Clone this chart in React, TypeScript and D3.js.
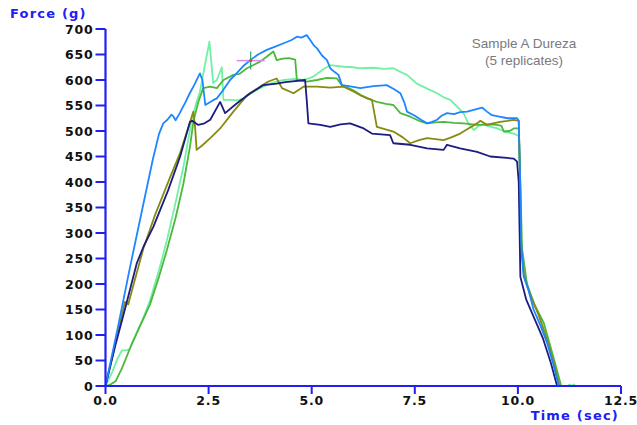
import { useMemo } from "react";
import * as d3 from "d3";

const WIDTH = 637;
const HEIGHT = 425;
const MARGIN = { top: 29, right: 16, bottom: 39, left: 105.5 };

const xTicks = [0, 2.5, 5, 7.5, 10, 12.5];
const yTicks = [0, 50, 100, 150, 200, 250, 300, 350, 400, 450, 500, 550, 600, 650, 700];

type Pt = [number, number];

// replicate 1 (bright blue)
const blueSeries: Pt[] = [
  [0, 0], [0.3, 115], [0.6, 235], [0.9, 350], [1.15, 445], [1.3, 495], [1.4, 515], [1.5, 522],
  [1.6, 532], [1.65, 528], [1.7, 521], [1.8, 535], [1.93, 555], [2.05, 575], [2.15, 590], [2.29, 613],
  [2.35, 600], [2.42, 551], [2.5, 555], [2.6, 560], [2.7, 564], [2.85, 580], [3.02, 600], [3.2, 615],
  [3.35, 628], [3.51, 639], [3.7, 650], [3.91, 659], [4.1, 665], [4.32, 672], [4.5, 678], [4.64, 685],
  [4.75, 683], [4.88, 688], [4.95, 680], [5.05, 668], [5.13, 662], [5.25, 648], [5.37, 639], [5.45, 623],
  [5.55, 616], [5.65, 610], [5.73, 590], [5.9, 588], [6.18, 584], [6.5, 588], [6.82, 590], [7.0, 582],
  [7.15, 574], [7.25, 555], [7.31, 538], [7.5, 530], [7.65, 522], [7.8, 515], [7.92, 518], [8.04, 522],
  [8.15, 530], [8.28, 535], [8.45, 533], [8.6, 537], [8.77, 538], [8.95, 542], [9.13, 546], [9.25, 538],
  [9.37, 531], [9.55, 528], [9.75, 525], [9.98, 525], [10.02, 520], [10.05, 420], [10.08, 280],
  [10.14, 215], [10.25, 190], [10.38, 150], [10.55, 118], [10.71, 84], [10.85, 45], [10.99, 0], [11.5, 0],
];

// replicate 2 (aquamarine)
const aquaSeries: Pt[] = [
  [0, 0], [0.15, 25], [0.3, 55], [0.4, 70], [0.5, 70], [0.58, 72], [0.67, 90], [0.9, 130], [1.08, 168],
  [1.3, 228], [1.49, 286], [1.7, 360], [1.89, 430], [2.09, 521], [2.2, 555], [2.29, 577], [2.4, 625],
  [2.52, 675], [2.56, 640], [2.61, 594], [2.7, 600], [2.82, 625], [2.86, 561], [3.02, 561], [3.2, 560],
  [3.35, 564], [3.55, 575], [3.75, 584], [3.95, 592], [4.15, 597], [4.32, 600], [4.6, 602], [4.8, 600],
  [5.0, 605], [5.13, 612], [5.3, 622], [5.45, 629], [5.77, 626], [6.0, 625], [6.18, 623], [6.5, 624],
  [6.75, 622], [6.98, 623], [7.15, 616], [7.31, 610], [7.45, 600], [7.55, 593], [7.8, 583], [8.04, 574],
  [8.2, 566], [8.36, 561], [8.5, 550], [8.68, 535], [8.8, 515], [8.93, 502], [9.05, 510], [9.17, 512],
  [9.35, 508], [9.5, 505], [9.7, 498], [9.9, 495], [10.02, 490], [10.05, 400], [10.08, 275], [10.15, 220],
  [10.3, 180], [10.5, 140], [10.7, 95], [10.9, 40], [11.03, 0], [11.2, 0], [11.25, 3], [11.3, 0],
  [11.35, 3], [11.4, 0], [11.5, 0],
];

// replicate 3 (green)
const greenSeries: Pt[] = [
  [0, 0], [0.1, 2], [0.25, 10], [0.4, 35], [0.6, 75], [0.85, 120], [1.08, 160], [1.3, 215], [1.49, 267],
  [1.7, 330], [1.89, 397], [2.05, 470], [2.13, 518], [2.25, 557], [2.37, 584], [2.54, 587], [2.7, 584],
  [2.86, 600], [3.1, 610], [3.25, 612], [3.43, 623], [3.6, 630], [3.75, 636], [3.9, 645], [4.07, 656],
  [4.15, 639], [4.3, 642], [4.45, 643], [4.6, 640], [4.64, 600], [4.88, 597], [5.13, 600], [5.37, 604],
  [5.61, 603], [5.73, 590], [6.01, 580], [6.2, 570], [6.34, 564], [6.58, 557], [6.8, 553], [6.98, 551],
  [7.15, 535], [7.39, 528], [7.6, 520], [7.8, 515], [8.0, 517], [8.2, 518], [8.45, 516], [8.68, 515],
  [9.01, 512], [9.3, 513], [9.5, 512], [9.6, 510], [9.66, 499], [9.8, 500], [9.9, 505], [10.02, 505],
  [10.06, 400], [10.1, 270], [10.22, 200], [10.4, 160], [10.63, 123], [10.85, 60], [11.05, 0], [11.5, 0],
];

// replicate 4 (olive)
const oliveSeries: Pt[] = [
  [0, 0], [0.2, 70], [0.4, 140], [0.47, 165], [0.55, 160], [0.7, 205], [0.92, 270], [1.2, 335],
  [1.57, 410], [1.8, 455], [2.0, 505], [2.13, 538], [2.17, 510], [2.21, 463], [2.35, 472], [2.54, 486],
  [2.78, 505], [3.1, 538], [3.43, 570], [3.75, 587], [3.95, 597], [4.15, 603], [4.28, 584], [4.56, 574],
  [4.8, 587], [5.13, 587], [5.45, 585], [5.77, 587], [6.0, 578], [6.18, 570], [6.46, 561], [6.58, 508],
  [6.98, 499], [7.2, 488], [7.39, 476], [7.6, 482], [7.8, 486], [8.2, 482], [8.4, 488], [8.6, 495],
  [8.8, 505], [9.01, 515], [9.09, 520], [9.25, 512], [9.4, 515], [9.57, 518], [9.75, 520], [9.9, 522],
  [10.02, 520], [10.05, 420], [10.08, 270], [10.15, 215], [10.3, 178], [10.5, 140], [10.7, 92],
  [10.9, 38], [11.0, 0], [11.5, 0],
];

// replicate 5 (navy)
const navySeries: Pt[] = [
  [0, 0], [0.23, 77], [0.47, 150], [0.76, 241], [0.92, 273], [1.16, 312], [1.52, 384], [1.81, 450],
  [2.05, 518], [2.1, 520], [2.25, 512], [2.4, 515], [2.54, 522], [2.78, 557], [2.9, 535], [3.18, 554],
  [3.51, 574], [3.83, 590], [4.15, 593], [4.36, 596], [4.48, 597], [4.84, 600], [4.88, 560], [4.92, 515],
  [5.21, 512], [5.45, 508], [5.7, 513], [5.93, 515], [6.26, 505], [6.46, 495], [6.9, 492], [6.98, 476],
  [7.39, 473], [7.8, 466], [8.2, 463], [8.28, 473], [8.6, 466], [9.01, 459], [9.33, 450], [9.9, 446],
  [9.98, 440], [10.02, 400], [10.06, 214], [10.2, 170], [10.38, 136], [10.6, 95], [10.8, 45],
  [10.95, 0], [11.5, 0],
];

const series = [
  { name: "aqua", color: "#72f0a4", data: aquaSeries },
  { name: "green", color: "#4cb83c", data: greenSeries },
  { name: "olive", color: "#878a12", data: oliveSeries },
  { name: "navy", color: "#1c1c82", data: navySeries },
  { name: "blue", color: "#1e86ff", data: blueSeries },
];

// cursor cross left on the plot
const cursorPoint: Pt = [3.52, 638];

const AXIS_COLOR = "#2020f4";
const LABEL_FONT = "'DejaVu Sans', Verdana, sans-serif";

export default function App() {
  const boundsWidth = WIDTH - MARGIN.left - MARGIN.right;
  const boundsHeight = HEIGHT - MARGIN.top - MARGIN.bottom;

  const xScale = useMemo(
    () => d3.scaleLinear().domain([0, 12.5]).range([0, boundsWidth]),
    [boundsWidth]
  );
  const yScale = useMemo(
    () => d3.scaleLinear().domain([0, 700]).range([boundsHeight, 0]),
    [boundsHeight]
  );

  const lineBuilder = d3
    .line<Pt>()
    .x((d) => xScale(d[0]))
    .y((d) => yScale(d[1]));

  const cx = xScale(cursorPoint[0]);
  const cy = yScale(cursorPoint[1]);

  return (
    <svg
      width={WIDTH}
      height={HEIGHT}
      style={{ position: "absolute", left: 0, top: 0, background: "#fff" }}
    >
      <g transform={`translate(${MARGIN.left},${MARGIN.top})`}>
        {series.map((s) => (
          <path
            key={s.name}
            d={lineBuilder(s.data) ?? ""}
            fill="none"
            stroke={s.color}
            strokeWidth={1.8}
            strokeLinejoin="round"
          />
        ))}

        {/* cursor cross */}
        <line x1={cx - 14} x2={cx + 14} y1={cy} y2={cy} stroke="#d68ce8" strokeWidth={1.5} />
        <line x1={cx} x2={cx} y1={cy - 9} y2={cy + 9} stroke="#2aa86a" strokeWidth={1.2} />
        <circle cx={cx} cy={cy} r={1.5} fill="#e04040" />

        {/* y axis */}
        <line x1={0} x2={0} y1={0} y2={boundsHeight} stroke={AXIS_COLOR} strokeWidth={2.2} />
        {yTicks.map((t) => (
          <g key={t} transform={`translate(0,${yScale(t)})`}>
            <line x1={-10} x2={0} stroke={AXIS_COLOR} strokeWidth={2} />
            <text
              x={-12}
              dy="0.36em"
              textAnchor="end"
              fontFamily={LABEL_FONT}
              fontWeight="bold"
              fontSize={12.5}
              letterSpacing={0.8}
              fill="#111"
            >
              {t}
            </text>
          </g>
        ))}

        {/* x axis */}
        <line x1={0} x2={boundsWidth} y1={boundsHeight} y2={boundsHeight} stroke={AXIS_COLOR} strokeWidth={2.2} />
        {xTicks.map((t) => (
          <g key={t} transform={`translate(${xScale(t)},${boundsHeight})`}>
            <line y1={0} y2={8} stroke={AXIS_COLOR} strokeWidth={2} />
            <text
              y={19}
              textAnchor="middle"
              fontFamily={LABEL_FONT}
              fontWeight="bold"
              fontSize={12.5}
              letterSpacing={0.8}
              fill="#111"
            >
              {t.toFixed(1)}
            </text>
          </g>
        ))}
      </g>

      <text x={10} y={18} fontFamily={LABEL_FONT} fontWeight="bold" fontSize={13} fill={AXIS_COLOR} letterSpacing={1.2}>
        Force (g)
      </text>
      <text x={619} y={420} textAnchor="end" fontFamily={LABEL_FONT} fontWeight="bold" fontSize={13} fill={AXIS_COLOR} letterSpacing={1.2}>
        Time (sec)
      </text>

      <g fontFamily="'Liberation Sans', Arial, sans-serif" fontSize={13.5} fill="#7a7a7a" textAnchor="middle">
        <text x={524} y={48}>Sample A Dureza</text>
        <text x={524} y={65}>(5 replicates)</text>
      </g>
    </svg>
  );
}
